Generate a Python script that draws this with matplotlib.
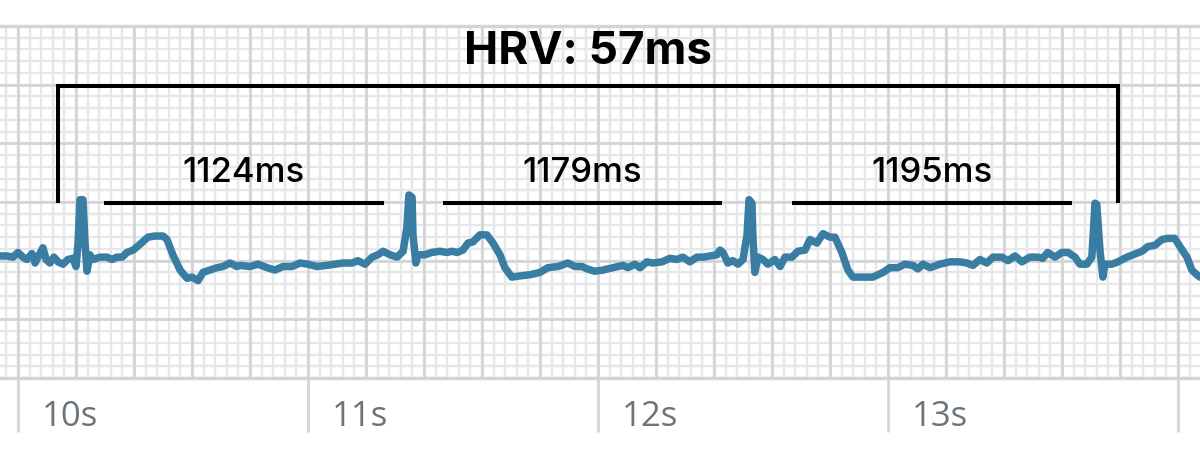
import matplotlib
matplotlib.use("Agg")
import matplotlib.pyplot as plt
import matplotlib.transforms as mtransforms
import numpy as np

# ECG trace, time in seconds, amplitude in mV
t1 = [9.938, 9.962, 9.983, 10.000, 10.017, 10.031, 10.048, 10.059, 10.069, 10.086, 10.097, 10.110,
      10.124, 10.138, 10.155, 10.172, 10.190, 10.200, 10.207, 10.214, 10.224, 10.231, 10.238, 10.248,
      10.259, 10.283, 10.307, 10.324, 10.341, 10.359, 10.376, 10.397, 10.421, 10.448, 10.472, 10.500,
      10.514, 10.534, 10.559, 10.583, 10.600, 10.621, 10.638, 10.662, 10.686, 10.707, 10.731, 10.755]
v1 = [0.04, 0.04, 0.03, 0.07, 0.03, 0.01, 0.06, -0.02, 0.03, 0.11, 0.01, -0.02,
      0.03, -0.01, -0.03, 0.01, 0.02, -0.05, 0.14, 0.52, 0.52, 0.16, -0.09, 0.05,
      0.01, 0.03, 0.03, 0.01, 0.03, 0.03, 0.07, 0.09, 0.14, 0.20, 0.21, 0.21,
      0.18, 0.05, -0.08, -0.15, -0.14, -0.17, -0.10, -0.08, -0.06, -0.05, -0.02, -0.05]

t2 = [10.766, 10.800, 10.828, 10.859, 10.886, 10.914, 10.945, 10.972, 11.000, 11.031, 11.066, 11.093,
      11.121, 11.152, 11.172, 11.197, 11.221, 11.241, 11.259, 11.283, 11.307, 11.328, 11.341, 11.348,
      11.359, 11.362, 11.372, 11.379, 11.403, 11.427, 11.455, 11.479, 11.496, 11.514, 11.534, 11.552,
      11.569, 11.593]
v2 = [-0.04, -0.05, -0.03, -0.06, -0.08, -0.05, -0.05, -0.02, -0.03, -0.05, -0.04, -0.03,
      -0.02, -0.02, 0.00, -0.03, 0.03, 0.05, 0.08, 0.05, 0.03, 0.08, 0.28, 0.56,
      0.54, 0.22, -0.02, 0.05, 0.05, 0.07, 0.08, 0.07, 0.08, 0.07, 0.09, 0.15,
      0.16, 0.22]

t3 = [11.617, 11.638, 11.662, 11.679, 11.703, 11.731, 11.765, 11.800, 11.827, 11.862, 11.896, 11.921,
      11.945, 11.962, 11.989, 12.017, 12.052, 12.086, 12.103, 12.127, 12.145, 12.169, 12.189, 12.221,
      12.248, 12.272, 12.293, 12.317, 12.341, 12.362, 12.386, 12.410]
v3 = [0.22, 0.15, 0.05, -0.06, -0.14, -0.13, -0.12, -0.10, -0.06, -0.05, -0.02, -0.05,
      -0.05, -0.07, -0.09, -0.08, -0.06, -0.04, -0.06, -0.03, -0.06, -0.01, -0.02, -0.01,
      0.02, 0.01, 0.03, -0.01, 0.03, 0.03, 0.04, 0.05]

t4 = [12.421, 12.431, 12.448, 12.465, 12.483, 12.500, 12.514, 12.521, 12.531, 12.534, 12.541, 12.552,
      12.569, 12.586, 12.610, 12.628, 12.645, 12.669, 12.689, 12.714, 12.731, 12.755, 12.776, 12.800,
      12.817, 12.841, 12.862, 12.879, 12.903, 12.927, 12.948, 12.983, 13.007, 13.034, 13.058, 13.086,
      13.103, 13.121, 13.145, 13.179, 13.214]
v4 = [0.09, 0.07, -0.02, 0.00, -0.03, 0.01, 0.22, 0.52, 0.49, 0.22, -0.10, 0.03,
      0.01, -0.03, 0.01, -0.05, 0.03, 0.03, 0.08, 0.09, 0.18, 0.15, 0.23, 0.20,
      0.20, 0.07, -0.08, -0.14, -0.14, -0.14, -0.14, -0.10, -0.06, -0.06, -0.03, -0.04,
      -0.07, -0.03, -0.06, -0.03, -0.01]

t5 = [13.248, 13.272, 13.293, 13.317, 13.341, 13.362, 13.393, 13.414, 13.438, 13.462, 13.489, 13.517,
      13.534, 13.551, 13.576, 13.600, 13.621, 13.645, 13.662, 13.686, 13.703, 13.714, 13.720, 13.731,
      13.741, 13.748, 13.772, 13.793, 13.824, 13.845, 13.876, 13.896, 13.920, 13.945, 13.965, 13.989,
      14.007, 14.031, 14.048, 14.065, 14.076]
v5 = [-0.01, -0.02, -0.04, 0.01, -0.02, 0.03, 0.03, 0.00, 0.04, -0.01, 0.03, 0.03,
      0.02, 0.07, 0.03, 0.07, 0.07, 0.03, -0.03, -0.03, 0.03, 0.49, 0.48, 0.09,
      -0.14, -0.03, -0.03, -0.01, 0.03, 0.05, 0.08, 0.12, 0.13, 0.18, 0.19, 0.19,
      0.12, 0.03, -0.08, -0.12, -0.14]

sec_ticks = [10, 11, 12, 13, 14]
sec_labels = ["10s", "11s", "12s", "13s"]   # 14s falls off the right edge

# RR intervals (ms) and where their bars sit on the strip
rr_ms = [1124, 1179, 1195]
rr_start = [10.297, 11.466, 12.669]
rr_end = [11.262, 12.428, 13.634]
hrv_ms = 57
hrv_start, hrv_end = 10.138, 13.793

t = np.concatenate([t1, t2, t3, t4, t5])
v = np.concatenate([v1, v2, v3, v4, v5])

fig = plt.figure(figsize=(12, 4.68), dpi=100)
ax = fig.add_axes([0, 1 - 378 / 468, 1, 352 / 468])
x0, x1 = 9.938, 14.076
y0, y1 = -1.0, 2.0
ax.set_xlim(x0, x1)
ax.set_ylim(y0, y1)
for s in ax.spines.values():
    s.set_visible(False)
ax.set_yticks([])

minor_c = "#e6e7e8"
major_c = "#d2d4d6"
# ECG paper: 0.04 s / 0.1 mV small boxes, 0.2 s / 0.5 mV big boxes
for x in np.arange(9.96, x1, 0.04):
    ax.axvline(x, color=minor_c, lw=1.7, zorder=0)
for y in np.arange(-1.0, 2.0, 0.1):
    ax.axhline(y, color=minor_c, lw=1.7, zorder=0)
for x in np.arange(10.0, x1, 0.2):
    ax.axvline(x, color=major_c, lw=2.0, zorder=1)
for y in np.arange(-0.5, 2.0, 0.5):
    ax.axhline(y, color=major_c, lw=2.0, zorder=1)
ax.axhline(y1, color=major_c, lw=2.4, zorder=1, clip_on=False)
ax.axhline(y0, color=major_c, lw=2.4, zorder=1, clip_on=False)

ax.set_xticks(sec_ticks)
ax.set_xticklabels([])
ax.tick_params(axis="x", length=39, width=2.0, color=major_c, direction="out")

trans = mtransforms.blended_transform_factory(ax.transData, ax.transAxes)
for s, lab in zip(sec_ticks, sec_labels):
    ax.text(s + 0.084, -0.11, lab, transform=trans, ha="left", va="center",
            fontsize=25, color="#6b747b", family="Open Sans")

ax.plot(t, v, color="#3a7da3", lw=5.4, solid_joinstyle="round", solid_capstyle="round", zorder=3)

# brackets
bar_y = 0.49
top_y = 1.49
ax.plot([hrv_start, hrv_start, hrv_end, hrv_end], [bar_y, top_y, top_y, bar_y],
        color="black", lw=2.9, solid_joinstyle="miter", solid_capstyle="butt", zorder=4)
ax.text((hrv_start + hrv_end) / 2, 1.78, f"HRV: {hrv_ms}ms", ha="center", va="center",
        fontsize=33, fontweight="bold", family="Inter", color="black", zorder=5)
for a, b, ms in zip(rr_start, rr_end, rr_ms):
    ax.plot([a, b], [bar_y, bar_y], color="black", lw=2.9, solid_capstyle="butt", zorder=4)
    ax.text((a + b) / 2, 0.75, f"{ms}ms", ha="center", va="center",
            fontsize=25, fontweight="medium", family="Inter", color="black", zorder=5)

fig.savefig("out.png", dpi=100)
